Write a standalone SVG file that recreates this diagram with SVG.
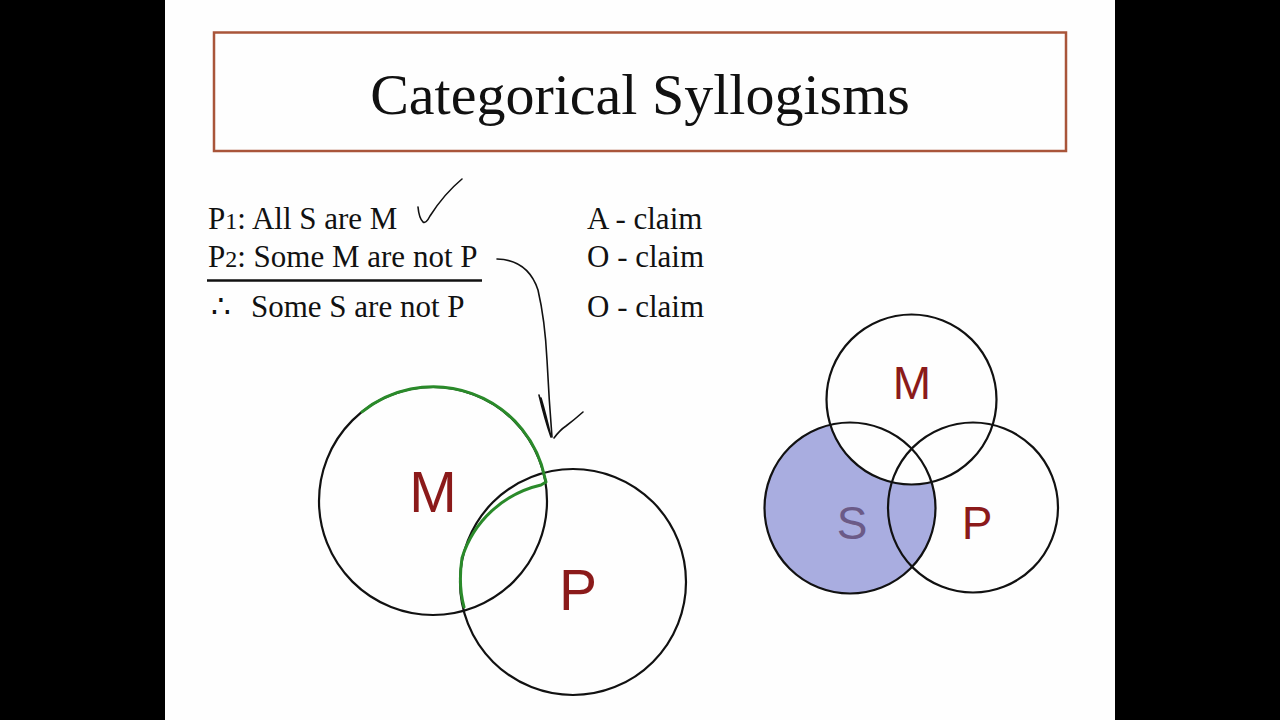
<svg xmlns="http://www.w3.org/2000/svg" width="1280" height="720" viewBox="0 0 1280 720">
<style>
.serif{font-family:"Liberation Serif","Times New Roman",serif;fill:#111}
.sans{font-family:"Liberation Sans",Arial,sans-serif;text-anchor:middle}
.red{fill:#8b1a1a}
.c{fill:none;stroke:#111;stroke-width:2.2}
.ink{fill:none;stroke:#111;stroke-width:1.6;stroke-linecap:round;stroke-linejoin:round}
</style>
<rect x="0" y="0" width="1280" height="720" fill="#000"/>
<rect x="165" y="0" width="950" height="720" fill="#fefefe"/>
<g id="title">
<rect x="214" y="32.5" width="852" height="118.5" fill="none" stroke="#a9553a" stroke-width="2.5"/>
<text class="serif" x="640" y="114" font-size="58" text-anchor="middle">Categorical Syllogisms</text>
</g>
<g id="premises" font-size="31">
<text class="serif" x="208" y="229">P<tspan font-size="24">1</tspan>: All S are M</text>
<text class="serif" x="208" y="267">P<tspan font-size="24">2</tspan>: Some M are not P</text>
<line x1="207" y1="280.5" x2="482" y2="280.5" stroke="#111" stroke-width="2.5"/>
<text class="serif" x="211" y="317">∴</text>
<text class="serif" x="251" y="317">Some S are not P</text>
<text class="serif" x="587" y="229">A - claim</text>
<text class="serif" x="587" y="267">O - claim</text>
<text class="serif" x="587" y="317">O - claim</text>
</g>
<g id="left-venn">
<circle class="c" cx="433" cy="501" r="114"/>
<circle class="c" cx="573" cy="582" r="113"/>
<text class="sans red" x="433" y="512" font-size="57">M</text>
<text class="sans red" x="578" y="610" font-size="57">P</text>
<path d="M362 411.8 A114 114 0 0 1 545 478 L546 482 L541 485 A108 108 0 0 0 462 558 Q458 585 464 607" fill="none" stroke="#2a8a2a" stroke-width="3" stroke-linecap="round" stroke-linejoin="round"/>
</g>
<g id="right-venn">
<circle cx="850" cy="508" r="85.5" fill="#a9ade0"/>
<circle cx="911.5" cy="399.5" r="85" fill="#fefefe"/>
<circle class="c" cx="850" cy="508" r="85.5"/>
<circle class="c" cx="911.5" cy="399.5" r="85"/>
<circle class="c" cx="973" cy="507.5" r="85"/>
<text class="sans red" x="912" y="399" font-size="46">M</text>
<text class="sans" x="852" y="539" font-size="46" fill="#6b5a87">S</text>
<text class="sans red" x="977" y="539" font-size="46">P</text>
</g>
<g id="connectors">
<path class="ink" d="M418 207 Q419 218 423 222 Q426 224 430 216 Q444 194 462 179"/>
<path class="ink" d="M497 259 Q528 260 538 290 Q545 320 547 360 Q549 400 552 437"/>
<path class="ink" d="M539 395 Q545 420 551 437 Q546 415 541 398 M554 438 Q560 430 566 426 Q574 420 583 412"/>
</g>
</svg>
